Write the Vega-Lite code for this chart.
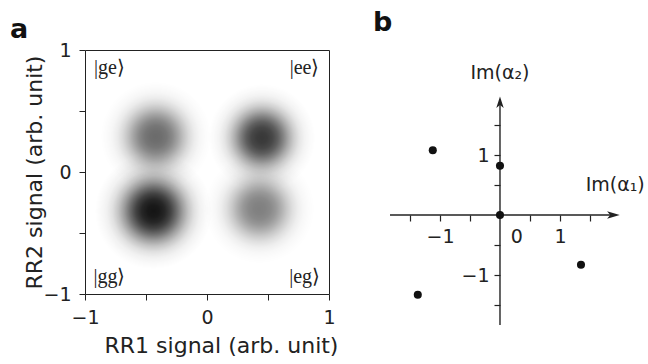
{
  "$schema": "https://vega.github.io/schema/vega-lite/v6.json",
  "background": "white",
  "padding": {"left": 9, "top": 9, "right": 0, "bottom": 0},
  "spacing": 34,
  "config": {
    "view": {"stroke": null},
    "font": "DejaVu Sans",
    "axis": {"labelFont": "DejaVu Sans", "titleFont": "DejaVu Sans", "labelColor": "#222", "titleColor": "#222", "domainColor": "#222", "tickColor": "#222", "grid": false, "titleFontWeight": "normal", "labelFlush": false, "labelOverlap": false, "format": "d"},
    "title": {"font": "DejaVu Sans", "fontWeight": "bold", "color": "#111", "anchor": "start"}
  },
  "hconcat": [
    {
      "width": 244,
      "height": 244,
      "view": {"stroke": "#222", "strokeWidth": 1},
      "title": {"text": "a", "fontSize": 27, "frame": "bounds", "dx": -14, "offset": -3},
      "layer": [
        {
          "data": {"values": [
            {"state": "gg", "x": -0.44, "y": -0.32, "spread": 0.18, "peak": 0.92},
            {"state": "ge", "x": -0.42, "y": 0.29, "spread": 0.17, "peak": 0.58},
            {"state": "ee", "x": 0.45, "y": 0.28, "spread": 0.165, "peak": 0.78},
            {"state": "eg", "x": 0.43, "y": -0.3, "spread": 0.17, "peak": 0.5}
          ]},
          "mark": {
            "type": "point",
            "shape": "circle",
            "filled": true,
            "strokeWidth": 0,
            "fill": {
              "gradient": "radial",
              "x1": 0.5, "y1": 0.5, "r1": 0,
              "x2": 0.5, "y2": 0.5, "r2": 0.5,
              "stops": [
                {"offset": 0, "color": "rgba(0,0,0,1)"},
                {"offset": 0.1, "color": "rgba(0,0,0,0.98)"},
                {"offset": 0.2, "color": "rgba(0,0,0,0.92)"},
                {"offset": 0.3, "color": "rgba(0,0,0,0.8)"},
                {"offset": 0.4, "color": "rgba(0,0,0,0.62)"},
                {"offset": 0.5, "color": "rgba(0,0,0,0.42)"},
                {"offset": 0.6, "color": "rgba(0,0,0,0.25)"},
                {"offset": 0.7, "color": "rgba(0,0,0,0.13)"},
                {"offset": 0.8, "color": "rgba(0,0,0,0.06)"},
                {"offset": 0.9, "color": "rgba(0,0,0,0.025)"},
                {"offset": 1, "color": "rgba(0,0,0,0)"}
              ]
            }
          },
          "encoding": {
            "x": {"field": "x", "type": "quantitative", "scale": {"domain": [-1, 1], "nice": false, "zero": false},
                  "axis": {"values": [-1, -0.5, 0, 0.5, 1], "labelExpr": "datum.value == 0.5 || datum.value == -0.5 ? '' : datum.label", "tickSize": 6, "labelPadding": 8, "labelFontSize": 19, "title": "RR1 signal (arb. unit)", "titleFontSize": 22, "titlePadding": 8, "titleX": 136, "domain": false}},
            "y": {"field": "y", "type": "quantitative", "scale": {"domain": [-1, 1], "nice": false, "zero": false},
                  "axis": {"values": [-1, -0.5, 0, 0.5, 1], "labelExpr": "datum.value == 0.5 || datum.value == -0.5 ? '' : datum.label", "tickSize": 6, "labelPadding": 8, "labelFontSize": 19, "title": "RR2 signal (arb. unit)", "titleFontSize": 22, "titlePadding": -4, "domain": false}},
            "size": {"field": "spread", "type": "quantitative", "legend": null, "scale": {"type": "pow", "exponent": 2, "domain": [0, 0.2], "range": [0, 16833]}},
            "opacity": {"field": "peak", "type": "quantitative", "legend": null, "scale": {"domain": [0, 1], "range": [0, 1]}}
          }
        },
        {
          "data": {"values": [
            {"ket": "|ge⟩", "x": -0.8, "y": 0.85},
            {"ket": "|ee⟩", "x": 0.8, "y": 0.85},
            {"ket": "|gg⟩", "x": -0.8, "y": -0.86},
            {"ket": "|eg⟩", "x": 0.8, "y": -0.86}
          ]},
          "mark": {"type": "text", "font": "Liberation Serif", "fontSize": 20, "color": "#222", "align": "center", "baseline": "middle"},
          "encoding": {
            "x": {"field": "x", "type": "quantitative"},
            "y": {"field": "y", "type": "quantitative"},
            "text": {"field": "ket"}
          }
        }
      ]
    },
    {
      "width": 230,
      "height": 275,
      "title": {"text": "b", "fontSize": 27, "frame": "group", "dx": -17, "offset": 13},
      "layer": [
        {
          "data": {"values": [{}]},
          "mark": {"type": "rule", "color": "#222", "strokeWidth": 1.4},
          "encoding": {
            "x": {"datum": -1.833, "type": "quantitative"},
            "x2": {"datum": 1.9},
            "y": {"datum": 0, "type": "quantitative"}
          }
        },
        {
          "data": {"values": [{}]},
          "mark": {"type": "rule", "color": "#222", "strokeWidth": 1.4},
          "encoding": {
            "x": {"datum": 0, "type": "quantitative"},
            "y": {"datum": -1.833, "type": "quantitative"},
            "y2": {"datum": 1.88}
          }
        },
        {
          "data": {"values": [{}]},
          "mark": {"type": "point", "filled": true, "color": "#222", "opacity": 1, "size": 160, "shape": "M1,0L-1,-0.6L-0.5,0L-1,0.6Z"},
          "encoding": {
            "x": {"datum": 1.89, "type": "quantitative"},
            "y": {"datum": 0, "type": "quantitative"}
          }
        },
        {
          "data": {"values": [{}]},
          "mark": {"type": "point", "filled": true, "color": "#222", "opacity": 1, "size": 130, "shape": "M0,-1L-0.65,1L0,0.5L0.65,1Z"},
          "encoding": {
            "x": {"datum": 0, "type": "quantitative"},
            "y": {"datum": 1.88, "type": "quantitative"}
          }
        },
        {
          "data": {"values": [
            {"im1": -1.12, "im2": 1.08},
            {"im1": 0, "im2": 0.82},
            {"im1": 0, "im2": 0},
            {"im1": 1.35, "im2": -0.83},
            {"im1": -1.37, "im2": -1.33}
          ]},
          "mark": {"type": "point", "filled": true, "color": "#111", "opacity": 1, "size": 65},
          "encoding": {
            "x": {"field": "im1", "type": "quantitative", "scale": {"domain": [-1.833, 2.0], "nice": false, "zero": false},
                  "axis": {"orient": "bottom", "offset": -110, "domain": false, "values": [-1.5, -1, -0.5, 0.5, 1, 1.5], "labelExpr": "datum.value == 1 || datum.value == -1 ? datum.label : ''", "tickSize": 6, "tickWidth": 1.2, "labelPadding": 6, "labelFontSize": 19, "title": null}},
            "y": {"field": "im2", "type": "quantitative", "scale": {"domain": [-1.833, 2.75], "nice": false, "zero": false},
                  "axis": {"orient": "left", "offset": -110, "domain": false, "values": [-1.5, -1, -0.5, 0.5, 1, 1.5], "labelExpr": "datum.value == 1 || datum.value == -1 ? datum.label : ''", "tickSize": 6, "tickWidth": 1.2, "labelPadding": 5, "labelFontSize": 19, "title": null}}
          }
        },
        {
          "data": {"values": [
            {"label": "Im(α₂)", "px": 0, "py": 2.37},
            {"label": "Im(α₁)", "px": 1.92, "py": 0.5},
            {"label": "0", "px": 0.28, "py": -0.36}
          ]},
          "mark": {"type": "text", "fontSize": 19, "color": "#222", "align": "center", "baseline": "middle"},
          "encoding": {
            "x": {"field": "px", "type": "quantitative"},
            "y": {"field": "py", "type": "quantitative"},
            "text": {"field": "label"}
          }
        }
      ]
    }
  ]
}
